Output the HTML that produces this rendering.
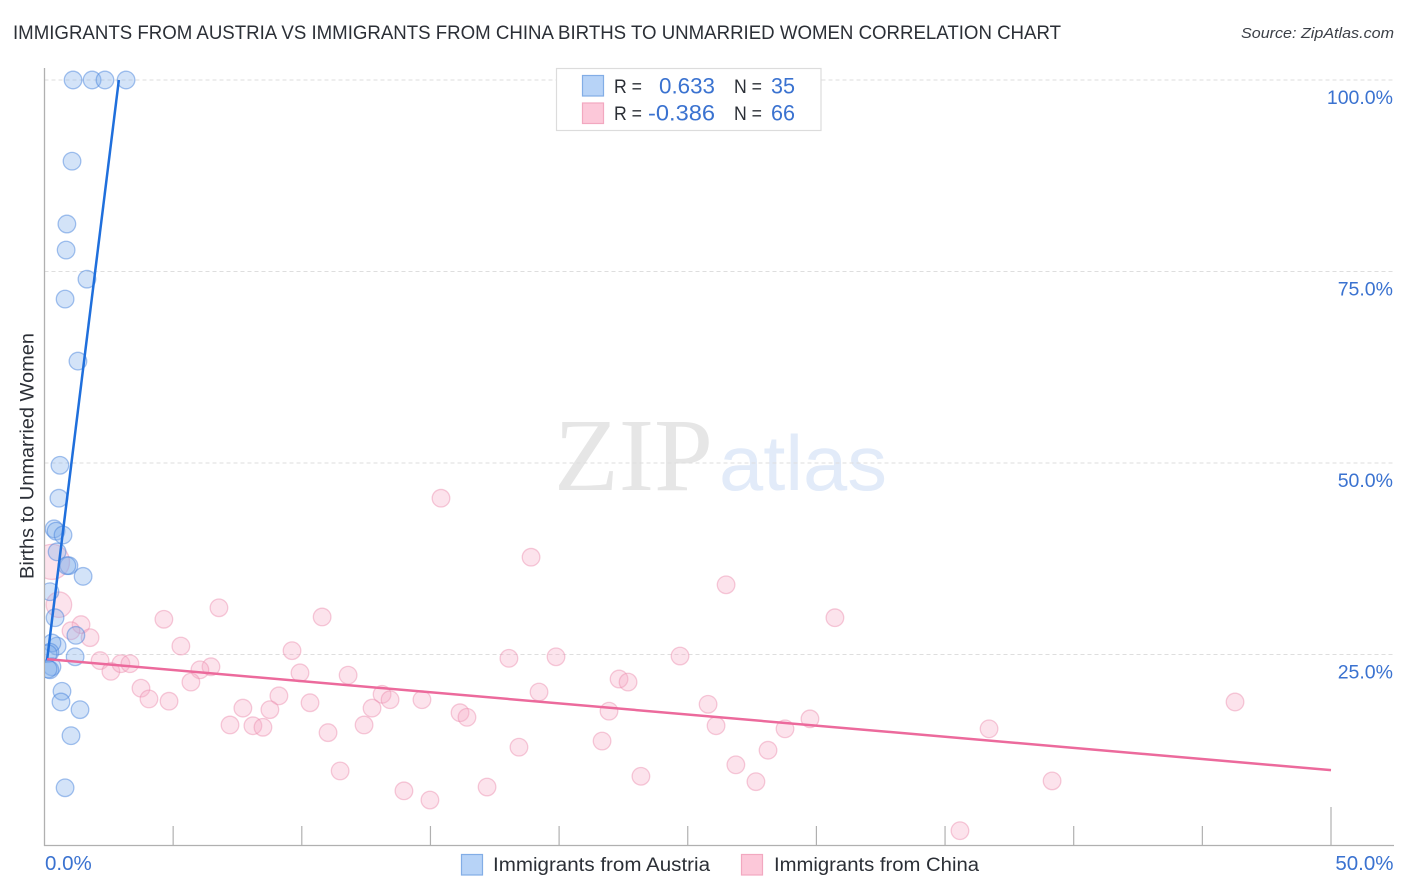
<!DOCTYPE html>
<html lang="en">
<head>
<meta charset="utf-8">
<title>Immigrants from Austria vs Immigrants from China Births to Unmarried Women Correlation Chart</title>
<style>
html,body{margin:0;padding:0;background:#fff;width:1406px;height:892px;overflow:hidden}
svg{display:block;font-family:"Liberation Sans",Arial,sans-serif}
</style>
</head>
<body>
<svg id="chart" width="1406" height="892" viewBox="0 0 1406 892" xmlns="http://www.w3.org/2000/svg">
  <defs><clipPath id="plot-clip"><rect x="45" y="60" width="1350" height="786"/></clipPath></defs>
  <rect x="0" y="0" width="1406" height="892" fill="#ffffff"/>
  <text x="13" y="39" font-size="19.5" fill="#2b2f36" textLength="1048" lengthAdjust="spacingAndGlyphs">IMMIGRANTS FROM AUSTRIA VS IMMIGRANTS FROM CHINA BIRTHS TO UNMARRIED WOMEN CORRELATION CHART</text>
  <text x="1394" y="38" font-size="15" font-style="italic" fill="#3c4048" text-anchor="end" textLength="153" lengthAdjust="spacingAndGlyphs">Source: ZipAtlas.com</text>
  <g>
    <text x="554" y="490" font-family="'Liberation Serif',serif" font-size="104" fill="#e6e6e6" textLength="159" lengthAdjust="spacingAndGlyphs">ZIP</text>
    <text x="719" y="490" font-size="78" fill="#e2ebf9" textLength="168" lengthAdjust="spacingAndGlyphs">atlas</text>
  </g>
  <g id="grid"></g>
  <g id="axes"></g>
  <g id="points" clip-path="url(#plot-clip)"></g>
  <g id="trends"></g>
  <g id="tick-labels"></g>
  <text transform="translate(33.5,456) rotate(-90)" font-size="19" fill="#2b2f36" text-anchor="middle" textLength="246" lengthAdjust="spacingAndGlyphs">Births to Unmarried Women</text>

  <g>
    <rect x="556.5" y="68.5" width="264.5" height="62" fill="#ffffff" stroke="#dcdcdc" stroke-width="1.2"/>
    <rect x="582.5" y="75.5" width="21" height="20.5" fill="#b7d3f7" stroke="#82ade6" stroke-width="1.2"/>
    <rect x="582.5" y="103" width="21" height="20.5" fill="#fcc8d9" stroke="#f2a8c0" stroke-width="1.2"/>
    <text x="614" y="93" font-size="19" fill="#2b2f36" textLength="28" lengthAdjust="spacingAndGlyphs">R =</text>
    <text x="659" y="93.5" font-size="22" fill="#3a72d0" textLength="56" lengthAdjust="spacingAndGlyphs">0.633</text>
    <text x="734" y="93" font-size="19" fill="#2b2f36" textLength="28" lengthAdjust="spacingAndGlyphs">N =</text>
    <text x="771" y="93.5" font-size="22" fill="#3a72d0" textLength="24" lengthAdjust="spacingAndGlyphs">35</text>
    <text x="614" y="120" font-size="19" fill="#2b2f36" textLength="28" lengthAdjust="spacingAndGlyphs">R =</text>
    <text x="648" y="120.5" font-size="22" fill="#3a72d0" textLength="67" lengthAdjust="spacingAndGlyphs">-0.386</text>
    <text x="734" y="120" font-size="19" fill="#2b2f36" textLength="28" lengthAdjust="spacingAndGlyphs">N =</text>
    <text x="771" y="120.5" font-size="22" fill="#3a72d0" textLength="24" lengthAdjust="spacingAndGlyphs">66</text>
  </g>

  <g>
    <rect x="461.5" y="854.5" width="21" height="20.5" fill="#b7d3f7" stroke="#82ade6" stroke-width="1.2"/>
    <text x="493" y="871" font-size="19" fill="#2b2f36" textLength="217" lengthAdjust="spacingAndGlyphs">Immigrants from Austria</text>
    <rect x="741.5" y="854.5" width="21" height="20.5" fill="#fcc8d9" stroke="#f2a8c0" stroke-width="1.2"/>
    <text x="774" y="871" font-size="19" fill="#2b2f36" textLength="205" lengthAdjust="spacingAndGlyphs">Immigrants from China</text>
  </g>
</svg>
<script>
var austriaX = [1.11,1.85,2.35,3.17,1.07,0.87,0.84,1.65,0.80,1.30,0.60,0.56,0.37,0.45,0.72,0.49,0.95,0.87,1.50,0.21,0.41,1.22,0.49,0.29,0.21,0.14,1.19,0.29,0.21,0.14,0.68,0.64,1.38,1.03,0.80];
var austriaY = [100,100,100,100,89.4,81.2,77.8,74.0,71.4,63.3,49.7,45.4,41.4,41.1,40.6,38.4,36.6,36.6,35.2,33.2,29.8,27.5,26.1,26.5,25.3,25.1,24.7,23.4,23.0,23.1,20.2,18.8,17.8,14.4,7.6];
var chinaX = [15.41,18.91,26.49,6.78,4.64,10.79,30.72,1.42,1.03,1.77,5.30,9.62,2.16,2.58,2.97,3.32,6.47,6.04,5.69,9.93,11.80,18.05,19.88,24.70,22.33,22.68,3.75,4.06,4.84,9.11,10.32,13.12,13.43,14.67,19.22,7.71,8.76,12.73,16.15,16.42,21.94,25.79,29.75,46.27,7.21,8.10,8.49,12.42,11.02,26.10,28.78,36.71,21.67,18.44,28.12,26.87,11.49,23.18,27.65,39.16,13.97,17.20,14.98,35.58,0.29,0.56];
var chinaY = [45.4,37.7,34.1,31.1,29.6,29.9,29.8,28.9,28.1,27.2,26.1,25.5,24.2,22.8,23.8,23.8,23.4,23.0,21.4,22.6,22.3,24.5,24.7,24.8,21.8,21.4,20.6,19.2,18.9,19.6,18.7,19.8,19.1,19.1,20.1,18.0,17.8,18.0,17.4,16.8,17.6,18.5,16.6,18.8,15.8,15.7,15.5,15.8,14.8,15.7,15.3,15.3,13.7,12.9,12.5,10.6,9.8,9.1,8.4,8.5,7.2,7.7,6.0,2.0,37.1,31.5];
var chinaWeight = [1,1,1,1,1,1,1,1,1,1,1,1,1,1,1,1,1,1,1,1,1,1,1,1,1,1,1,1,1,1,1,1,1,1,1,1,1,1,1,1,1,1,1,1,1,1,1,1,1,1,1,1,1,1,1,1,1,1,1,1,1,1,1,1,4,2.1];
var austriaTrendX = [0.1,2.89];
var austriaTrendY = [24.3,100];
var chinaTrendX = [0.1,50];
var chinaTrendY = [24.4,9.9];
var xTickValues = [0,5,10,15,20,25,30,35,40,45,50];
var xTickLabels = ["0.0%","50.0%"];
var xTickLabelValues = [0,50];
var yTickValues = [100,75,50,25];
var yTickLabels = ["100.0%","75.0%","50.0%","25.0%"];

var NS = 'http://www.w3.org/2000/svg';
function xScale(v){ return 44.5 + v * 25.73; }
function yScale(v){ return 846 - v * 7.66; }
function make(tag, parent, attrs){
  var el = document.createElementNS(NS, tag);
  for (var k in attrs) el.setAttribute(k, attrs[k]);
  document.getElementById(parent).appendChild(el);
  return el;
}

yTickValues.forEach(function(v, i){
  var line = make('line', 'grid', {x1:44.5, x2:1394, y1:yScale(v), y2:yScale(v), stroke:'#dedede', 'stroke-width':1, 'stroke-dasharray':'4 3'});
  
  
  var label = make('text', 'tick-labels', {x:1393, y:yScale(v) + 24, 'font-size':19.5, fill:'#3a72d0', 'text-anchor':'end'});
  label.textContent = yTickLabels[i];
  
  
});

var yAxis = make('line', 'axes', {x1:44.5, x2:44.5, y1:68, y2:846, stroke:'#b0b0b0', 'stroke-width':1.3});


var xAxis = make('line', 'axes', {x1:44, x2:1394, y1:845.5, y2:845.5, stroke:'#b0b0b0', 'stroke-width':1.3});



xTickValues.forEach(function(v){
  if (v === 0) return;
  var top = v === 50 ? 807 : 826;
  var tick = make('line', 'axes', {x1:xScale(v), x2:xScale(v), y1:top, y2:846, stroke:'#b0b0b0', 'stroke-width':1.2});
  
  
});

xTickLabelValues.forEach(function(v, i){
  var isLast = i === xTickLabels.length - 1;
  var label = make('text', 'tick-labels', {x:isLast ? 1393.5 : xScale(v) + 0.5, y:870, 'font-size':20.5, fill:'#3a72d0', 'text-anchor':isLast ? 'end' : 'start'});
  label.textContent = xTickLabels[i];
  
  
});

chinaX.forEach(function(v, i){
  var dot = make('circle', 'points', {cx:xScale(v), cy:yScale(chinaY[i]), r:8.8 * Math.sqrt(chinaWeight[i]), fill:'rgba(247,170,196,0.33)', stroke:'rgba(236,140,172,0.45)', 'stroke-width':1.3});
  
  
});

austriaX.forEach(function(v, i){
  var dot = make('circle', 'points', {cx:xScale(v), cy:yScale(austriaY[i]), r:8.8, fill:'rgba(130,175,235,0.35)', stroke:'rgba(70,130,220,0.48)', 'stroke-width':1.3});
  
  
});

var austriaLine = make('line', 'trends', {x1:xScale(austriaTrendX[0]), y1:yScale(austriaTrendY[0]), x2:xScale(austriaTrendX[1]), y2:yScale(austriaTrendY[1]), stroke:'#1f6fdc', 'stroke-width':2.5});


var chinaLine = make('line', 'trends', {x1:xScale(chinaTrendX[0]), y1:yScale(chinaTrendY[0]), x2:xScale(chinaTrendX[1]), y2:yScale(chinaTrendY[1]), stroke:'#ec6a9c', 'stroke-width':2.5});


</script>
</body>
</html>
